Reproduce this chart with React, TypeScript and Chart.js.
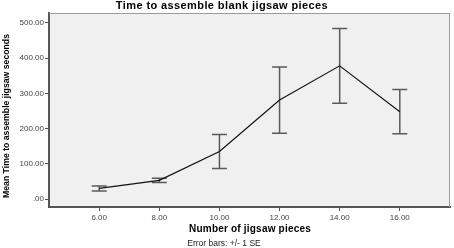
import React, { useEffect, useRef } from "react";
import { Chart, registerables } from "chart.js";

Chart.register(...registerables);

const pieces = [6, 8, 10, 12, 14, 16];
const meanTimes = [30, 53, 135, 281, 378, 248];
const seValues = [7, 6, 48, 94, 106, 63];
const xTicks = [6, 8, 10, 12, 14, 16];
const yTicks = [0, 100, 200, 300, 400, 500];

const titleText = "Time to assemble blank jigsaw pieces";
const xTitle = "Number of jigsaw pieces";
const yTitle = "Mean Time to assemble jigsaw seconds";
const footText = "Error bars: +/- 1 SE";

const fmt = (v: number) => (v === 0 ? ".00" : v.toFixed(2));

export default function App() {
  const ref = useRef<HTMLCanvasElement | null>(null);
  useEffect(() => {
    if (!ref.current) return;
    const bgPlugin = {
      id: "bgPlugin",
      beforeDraw(chart: any) {
        const { ctx, chartArea: a } = chart;
        ctx.save();
        ctx.fillStyle = "#ffffff";
        ctx.fillRect(0, 0, chart.width, chart.height);
        ctx.fillStyle = "#f0f0f0";
        ctx.fillRect(a.left, a.top, a.right - a.left, a.bottom - a.top);
        ctx.restore();
      },
      beforeDatasetsDraw(chart: any) {
        const { ctx } = chart;
        const xs = chart.scales.x;
        const ys = chart.scales.y;
        ctx.save();
        ctx.strokeStyle = "#5a5a5a";
        ctx.lineWidth = 1.5;
        pieces.forEach((p, i) => {
          const x = xs.getPixelForValue(p);
          const yHi = ys.getPixelForValue(meanTimes[i] + seValues[i]);
          const yLo = ys.getPixelForValue(meanTimes[i] - seValues[i]);
          ctx.beginPath();
          ctx.moveTo(x, yHi);
          ctx.lineTo(x, yLo);
          ctx.moveTo(x - 7.5, yHi);
          ctx.lineTo(x + 7.5, yHi);
          ctx.moveTo(x - 7.5, yLo);
          ctx.lineTo(x + 7.5, yLo);
          ctx.stroke();
        });
        ctx.restore();
      },
      afterDraw(chart: any) {
        const { ctx, chartArea: a } = chart;
        ctx.save();
        ctx.strokeStyle = "#9a9a9a";
        ctx.lineWidth = 1;
        ctx.beginPath();
        ctx.moveTo(a.left, a.top + 0.5);
        ctx.lineTo(a.right - 0.5, a.top + 0.5);
        ctx.lineTo(a.right - 0.5, a.bottom);
        ctx.stroke();
        ctx.fillStyle = "#000000";
        ctx.textAlign = "center";
        ctx.textBaseline = "middle";
        ctx.font = "bold 11px 'Liberation Sans', Arial, sans-serif";
        (ctx as any).letterSpacing = "0.4px";
        ctx.fillText(titleText, 222, 6);
        (ctx as any).letterSpacing = "0.2px";
        ctx.font = "bold 10px 'Liberation Sans', Arial, sans-serif";
        ctx.fillText(xTitle, 250, 229);
        (ctx as any).letterSpacing = "0px";
        ctx.font = "8.5px 'Liberation Sans', Arial, sans-serif";
        ctx.fillStyle = "#222222";
        ctx.fillText(footText, 224, 244);
        ctx.fillStyle = "#000000";
        ctx.translate(7, 116);
        ctx.rotate(-Math.PI / 2);
        ctx.font = "bold 8.7px 'Liberation Sans', Arial, sans-serif";
        ctx.fillText(yTitle, 0, 0);
        ctx.restore();
      },
    };

    const chart = new Chart(ref.current, {
      type: "line",
      data: {
        datasets: [
          {
            data: pieces.map((p, i) => ({ x: p, y: meanTimes[i] })),
            borderColor: "#111111",
            borderWidth: 1.2,
            pointRadius: 0,
            fill: false,
            tension: 0,
          },
        ],
      },
      options: {
        responsive: false,
        animation: false,
        layout: { padding: { top: 13, right: 4, left: 0, bottom: 0 } },
        plugins: {
          legend: { display: false },
          tooltip: { enabled: false },
          title: { display: false },
        },
        scales: {
          x: {
            type: "linear",
            min: 4.33,
            max: 17.67,
            afterBuildTicks: (s: any) => {
              s.ticks = xTicks.map((v) => ({ value: v }));
            },
            afterFit: (s: any) => {
              s.height = 41;
            },
            grid: {
              drawOnChartArea: false,
              drawTicks: true,
              tickLength: 4,
              color: "#555555",
            },
            border: { display: true, color: "#555555", width: 2 },
            ticks: {
              callback: (v: any) => fmt(Number(v)),
              font: { size: 8, family: "'Liberation Sans', Arial, sans-serif" },
              color: "#444444",
              padding: 2,
              maxRotation: 0,
            },
          },
          y: {
            type: "linear",
            min: -22.6,
            max: 528,
            afterBuildTicks: (s: any) => {
              s.ticks = yTicks.map((v) => ({ value: v }));
            },
            afterFit: (s: any) => {
              s.width = 49;
            },
            grid: {
              drawOnChartArea: false,
              drawTicks: true,
              tickLength: 4,
              color: "#555555",
            },
            border: { display: true, color: "#555555", width: 2 },
            ticks: {
              callback: (v: any) => fmt(Number(v)),
              font: { size: 8, family: "'Liberation Sans', Arial, sans-serif" },
              color: "#444444",
              padding: 1,
            },
          },
        },
      },
      plugins: [bgPlugin],
    } as any);
    return () => chart.destroy();
  }, []);

  return (
    <div style={{ position: "fixed", left: 0, top: 0, width: 454, height: 248 }}>
      <canvas ref={ref} width={454} height={248} />
    </div>
  );
}
